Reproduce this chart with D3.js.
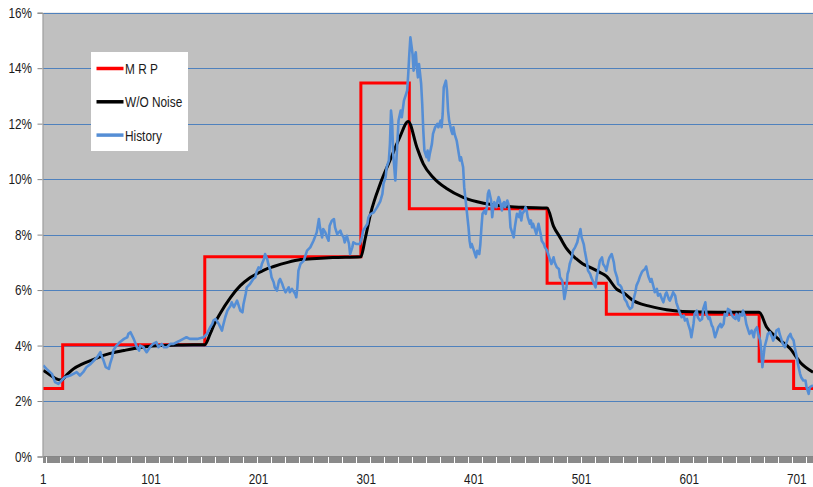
<!DOCTYPE html>
<html>
<head>
<meta charset="utf-8">
<script src="https://cdn.jsdelivr.net/npm/d3@7"></script>
<style>
  html, body { margin: 0; padding: 0; background: #ffffff; }
  svg { display: block; }
  text { font-family: "Liberation Sans", Arial, sans-serif; fill: #1a1a1a; }
</style>
</head>
<body>
<svg id="chart" width="813" height="487"></svg>
<script>
// ---- data (percent values per day) ----
const lastDay = 716;
const xTickLabels = [1, 101, 201, 301, 401, 501, 601, 701];
const yTickValues = [0, 2, 4, 6, 8, 10, 12, 14, 16];

// M R P: planned level, a new level starts on each listed day
const mrpStartDays = [1, 19, 151, 296, 341, 469, 524, 666, 698];
const mrpValues    = [2.45, 4.03, 7.20, 13.47, 8.93, 6.25, 5.13, 3.43, 2.45];

// W/O Noise: smooth response without noise
const noiseFreePoints = [
  [1,3.10],[7,2.95],[12,2.82],[18,2.76],[23,2.95],[29,3.16],[37,3.33],[45,3.46],
  [60,3.68],[76,3.82],[91,3.93],[107,3.99],[130,4.02],[151,4.03],[156,4.42],
  [160,4.78],[165,5.14],[175,5.74],[184,6.16],[192,6.42],[199,6.58],[207,6.74],
  [215,6.85],[228,7.00],[240,7.10],[255,7.14],[270,7.17],[296,7.20],[300,7.85],
  [305,8.75],[314,9.83],[323,10.67],[332,11.50],[340,12.08],[348,11.15],
  [354,10.55],[363,10.07],[376,9.65],[391,9.34],[410,9.13],[431,9.02],[450,8.98],
  [469,8.96],[475,8.30],[481,7.90],[487,7.50],[496,7.13],[502,6.95],[509,6.82],
  [518,6.64],[524,6.50],[534,6.02],[540,5.90],[549,5.62],[556,5.50],[564,5.42],
  [580,5.29],[595,5.23],[627,5.20],[666,5.20],[673,4.66],[682,4.30],[695,3.88],
  [704,3.40],[716,3.04]
];

// History: observed values
const historyPoints = [
  [1,3.28],[4,3.16],[9,2.98],[12,2.68],[15,2.62],[18,2.74],[21,2.86],[26,2.92],[29,2.98],
  [32,3.04],[35,2.92],[38,3.04],[41,3.22],[45,3.34],[48,3.46],[51,3.58],[54,3.76],[55,3.64],
  [57,3.46],[59,3.22],[62,3.16],[63,3.34],[65,3.58],[66,3.82],[69,4.00],[72,4.12],[76,4.24],
  [79,4.30],[80,4.42],[82,4.48],[85,4.24],[88,3.94],[90,3.82],[91,4.00],[94,3.94],[97,3.76],
  [100,3.94],[103,4.06],[106,4.12],[108,3.94],[111,4.06],[113,3.94],[116,3.94],[119,4.06],
  [122,4.06],[125,4.12],[128,4.18],[131,4.24],[134,4.30],[137,4.24],[144,4.24],[150,4.30],
  [153,4.42],[156,4.66],[158,4.78],[159,4.90],[161,4.96],[164,4.78],[167,4.54],[168,4.72],
  [170,5.02],[172,5.26],[175,5.44],[176,5.56],[178,5.38],[181,5.62],[182,5.50],[184,5.26],
  [186,5.20],[187,5.50],[189,5.86],[190,6.10],[193,6.22],[196,6.40],[198,6.46],[199,6.64],
  [201,6.82],[203,6.76],[204,6.94],[206,7.12],[207,7.30],[209,7.12],[210,6.94],[212,6.70],
  [213,6.46],[215,6.28],[216,6.10],[218,5.98],[220,6.34],[221,6.40],[223,6.22],[224,6.10],
  [226,5.92],[227,5.98],[229,6.10],[230,5.92],[232,6.04],[233,5.98],[235,5.86],[236,5.74],
  [237,6.10],[238,6.70],[240,6.95],[243,7.06],[246,7.42],[249,7.54],[252,7.78],[255,8.08],
  [257,8.56],[258,8.26],[260,7.90],[261,8.20],[263,8.08],[264,7.96],[266,7.78],[267,8.32],
  [269,8.50],[271,8.56],[272,8.26],[274,8.02],[277,8.14],[278,8.02],[280,7.90],[281,7.72],
  [283,7.96],[285,7.66],[286,7.30],[288,7.54],[289,7.72],[292,7.66],[295,7.66],[297,7.90],
  [298,8.14],[302,8.38],[303,8.62],[305,8.74],[308,8.80],[311,8.98],[314,9.20],[316,9.47],
  [317,9.83],[319,10.07],[320,10.43],[322,10.67],[323,11.27],[324,12.47],[325,12.11],
  [326,10.91],[328,9.95],[329,10.67],[331,12.11],[333,12.47],[334,12.23],[336,12.83],
  [337,12.95],[339,13.19],[340,13.79],[341,14.51],[342,15.11],[344,14.51],[345,13.91],
  [346,14.39],[347,14.57],[348,14.03],[349,13.67],[350,14.15],[352,13.43],[353,12.71],
  [354,11.75],[355,11.03],[357,10.79],[358,11.03],[359,10.67],[360,10.91],[362,11.27],
  [363,11.63],[365,11.87],[367,11.99],[368,11.87],[370,12.11],[371,11.87],[372,12.35],
  [373,13.31],[375,13.55],[376,13.19],[377,12.47],[378,12.11],[380,11.75],[381,11.63],
  [382,11.87],[383,11.63],[385,11.39],[386,11.15],[387,10.91],[388,10.67],[389,10.79],
  [391,10.43],[392,9.71],[393,9.35],[394,8.99],[396,8.26],[397,7.78],[398,7.54],[399,7.66],
  [401,7.42],[402,7.30],[403,7.18],[404,7.42],[406,7.30],[407,7.66],[408,8.26],[409,8.75],
  [411,8.87],[412,8.75],[413,8.99],[414,9.47],[415,9.59],[417,9.23],[418,8.63],[419,8.99],
  [420,9.17],[422,8.99],[423,9.23],[424,9.35],[425,9.23],[427,8.87],[428,9.11],[429,9.17],
  [430,8.99],[432,9.23],[433,9.11],[434,8.87],[435,8.26],[437,8.02],[438,7.90],[439,8.26],
  [440,8.51],[441,8.75],[443,8.63],[444,8.87],[445,8.51],[446,8.75],[448,8.87],[449,8.99],
  [450,8.87],[451,8.63],[453,8.39],[454,8.51],[455,8.26],[456,8.39],[458,8.14],[459,8.02],
  [461,8.39],[463,8.02],[464,7.78],[466,7.66],[467,7.54],[469,7.42],[470,7.30],[472,7.06],
  [473,6.94],[475,7.18],[476,7.00],[478,6.82],[480,6.76],[481,6.46],[483,6.34],[484,6.10],
  [485,5.68],[487,6.10],[488,6.58],[489,6.70],[490,6.94],[492,7.18],[493,7.42],[495,7.54],
  [497,7.72],[498,7.90],[500,8.20],[501,7.90],[503,7.66],[504,7.42],[506,7.00],[507,6.70],
  [509,6.58],[510,6.46],[512,6.28],[514,6.10],[515,6.46],[517,6.82],[518,7.06],[520,7.18],
  [521,6.94],[523,6.82],[524,6.70],[526,7.06],[527,7.18],[529,7.30],[531,7.00],[532,6.70],
  [534,6.46],[535,6.22],[537,6.16],[538,6.10],[540,5.86],[541,5.68],[543,5.56],[544,5.44],
  [546,5.32],[548,5.38],[549,5.62],[551,5.92],[552,6.16],[554,6.34],[555,6.46],[557,6.64],
  [558,6.70],[560,6.76],[561,6.85],[563,6.50],[565,6.30],[566,6.40],[568,6.10],[569,5.92],
  [571,6.04],[572,5.80],[574,5.86],[575,5.74],[577,5.56],[579,5.86],[580,5.92],[582,5.68],
  [583,5.62],[585,5.80],[586,5.92],[588,5.80],[589,5.56],[591,5.32],[592,5.20],[594,5.02],
  [596,5.08],[597,4.90],[599,4.96],[600,4.78],[602,4.54],[603,4.30],[605,4.78],[606,5.14],
  [608,5.26],[609,5.02],[611,4.90],[613,4.96],[614,5.32],[616,5.56],[617,5.14],[619,4.96],
  [620,5.02],[622,4.72],[623,4.66],[625,4.30],[627,4.54],[628,4.66],[630,4.78],[631,4.66],
  [633,4.78],[634,5.14],[636,5.08],[637,5.32],[639,5.26],[640,5.14],[642,5.02],[644,4.96],
  [645,5.14],[647,4.90],[648,5.14],[650,5.08],[651,5.26],[653,5.02],[654,4.78],[656,4.54],
  [657,4.42],[659,4.54],[661,4.30],[662,4.54],[664,4.66],[665,4.42],[667,4.18],[668,3.82],
  [669,3.22],[670,3.58],[671,3.94],[673,4.24],[674,4.42],[676,4.48],[678,4.30],[679,4.18],
  [681,4.36],[682,4.54],[684,4.60],[685,4.42],[687,4.18],[688,4.06],[690,3.94],[692,4.18],
  [693,4.30],[695,4.42],[696,4.30],[698,4.18],[699,3.94],[701,3.58],[702,3.34],[704,2.98],
  [705,2.86],[707,2.74],[709,2.74],[710,2.50],[712,2.26],[713,2.50],[716,2.56]
];

const legendItems = [
  { label: "M R P",     color: "#ff0000" },
  { label: "W/O Noise", color: "#000000" },
  { label: "History",   color: "#558ed5" }
];

// ---- layout ----
const svg = d3.select("#chart");
const plot = { left: 43.3, right: 813, top: 12.7, bottom: 456.5 };
const narrow = 0.84;   // horizontal squeeze that gives the labels a condensed face

const x = d3.scaleLinear().domain([1, lastDay]).range([plot.left, plot.right]);
const y = d3.scaleLinear().domain([0, 16]).range([plot.bottom, plot.top]);

svg.append("defs").append("clipPath").attr("id", "plotClip")
  .append("rect")
  .attr("x", plot.left).attr("y", 0)
  .attr("width", plot.right - plot.left).attr("height", 487);

// plot background
svg.append("rect")
  .attr("x", plot.left).attr("y", plot.top)
  .attr("width", plot.right - plot.left).attr("height", plot.bottom - plot.top)
  .attr("fill", "#c0c0c0");

// horizontal gridlines
svg.append("g")
  .selectAll("line")
  .data(yTickValues.filter(v => v > 0))
  .join("line")
  .attr("x1", plot.left).attr("x2", plot.right)
  .attr("y1", d => Math.round(y(d)) + 0.5).attr("y2", d => Math.round(y(d)) + 0.5)
  .attr("stroke", "#4f81bd").attr("stroke-width", 1);

// y axis line and ticks
const yAxis = svg.append("g")
  .attr("transform", `translate(${Math.round(plot.left) - 0.5},0)`)
  .call(d3.axisLeft(y).tickValues(yTickValues).tickSize(5).tickFormat(""));
yAxis.select(".domain").attr("stroke", "#868686");
yAxis.selectAll(".tick line").attr("stroke", "#868686");

// y axis labels
svg.append("g")
  .selectAll("text")
  .data(yTickValues)
  .join("text")
  .attr("transform", d => `translate(32,${y(d)}) scale(${narrow},1)`)
  .attr("dy", "0.36em")
  .attr("text-anchor", "end")
  .style("font-size", "14px")
  .text(d => d + "%");

// x axis: a tick for every day
const xTicks = svg.append("g")
  .attr("transform", `translate(0,${Math.round(plot.bottom) - 0.5})`)
  .call(d3.axisBottom(x).tickValues(d3.range(1, lastDay + 1)).tickSize(6)
    .tickFormat(""));
xTicks.select(".domain").attr("stroke", "#868686").attr("d", `M${plot.left},0H${plot.right}`);
xTicks.selectAll(".tick line").attr("stroke", "#8a8a8a").attr("shape-rendering", "crispEdges");

// x axis labels
svg.append("g")
  .selectAll("text")
  .data(xTickLabels)
  .join("text")
  .attr("transform", d => `translate(${x(d)},483.5) scale(${narrow},1)`)
  .attr("text-anchor", "middle")
  .style("font-size", "14px")
  .text(d => d);

// ---- series ----
const series = svg.append("g").attr("clip-path", "url(#plotClip)");

const mrpSteps = mrpStartDays.map((d, i) => [d, mrpValues[i]]);
mrpSteps.push([lastDay, mrpValues[mrpValues.length - 1]]);

series.append("path")
  .datum(mrpSteps)
  .attr("fill", "none")
  .attr("stroke", legendItems[0].color)
  .attr("stroke-width", 3)
  .attr("d", d3.line().x(d => x(d[0])).y(d => y(d[1])).curve(d3.curveStepAfter));

series.append("path")
  .datum(noiseFreePoints)
  .attr("fill", "none")
  .attr("stroke", legendItems[1].color)
  .attr("stroke-width", 3)
  .attr("stroke-linejoin", "round")
  .attr("d", d3.line().x(d => x(d[0])).y(d => y(d[1])).curve(d3.curveMonotoneX));

series.append("path")
  .datum(historyPoints)
  .attr("fill", "none")
  .attr("stroke", legendItems[2].color)
  .attr("stroke-width", 2.6)
  .attr("stroke-linejoin", "round")
  .attr("d", d3.line().x(d => x(d[0])).y(d => y(d[1])));

// ---- legend ----
const legend = svg.append("g").attr("transform", "translate(91,52)");
legend.append("rect").attr("width", 97).attr("height", 99).attr("fill", "#ffffff");
const rows = legend.selectAll("g.row")
  .data(legendItems)
  .join("g")
  .attr("class", "row")
  .attr("transform", (d, i) => `translate(0,${16.5 + i * 33.3})`);
rows.append("line")
  .attr("x1", 5.5).attr("x2", 32.5)
  .attr("stroke", d => d.color).attr("stroke-width", 3.5);
rows.append("text")
  .attr("transform", `translate(34,0) scale(0.79,1)`)
  .attr("dy", "0.36em")
  .style("font-size", "15px")
  .text(d => d.label);
</script>
</body>
</html>
